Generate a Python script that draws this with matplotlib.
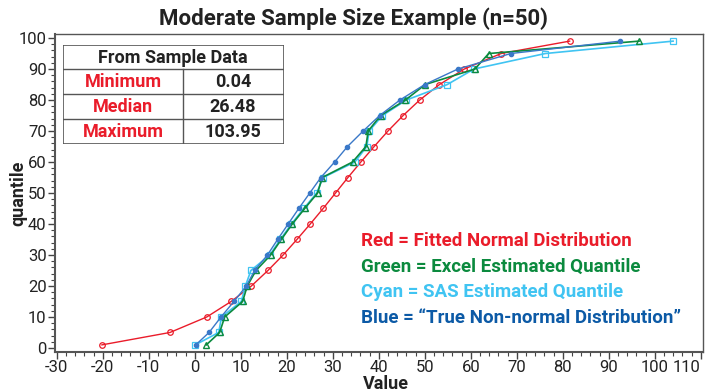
import numpy as np
import matplotlib.pyplot as plt
from matplotlib.ticker import MultipleLocator

# quantile levels (percent)
quantiles = [1, 5, 10, 15, 20, 25, 30, 35, 40, 45, 50, 55, 60, 65, 70, 75, 80, 85, 90, 95, 99]

red_vals = [-20.2, -5.4, 2.6, 7.9, 12.3, 15.9, 19.2, 22.2, 25.1, 27.9, 30.6,
            33.3, 36.1, 39.0, 42.0, 45.3, 48.9, 53.2, 58.6, 66.6, 81.5]
green_vals = [2.5, 5.4, 6.5, 10.4, 11.4, 13.3, 16.5, 18.8, 21.2, 23.9, 26.7,
              27.7, 34.3, 37.2, 37.7, 40.4, 45.8, 50.1, 60.9, 63.9, 96.6]
cyan_vals = [0.1, 5.2, 5.8, 10.1, 11.0, 12.2, 16.3, 18.6, 21.0, 23.7, 26.5,
             27.9, 34.8, 37.4, 37.9, 40.8, 46.0, 54.9, 60.7, 76.2, 104.0]
blue_vals = [0.2, 3.1, 5.7, 8.5, 11.2, 13.0, 15.8, 18.0, 20.3, 22.6, 25.0,
             27.4, 30.4, 33.2, 36.6, 40.2, 44.6, 50.0, 57.2, 68.7, 92.5]

x_ticks = [-30, -20, -10, 0, 10, 20, 30, 40, 50, 60, 70, 80, 90, 100, 110]

table_rows = [["Minimum", "0.04"], ["Median", "26.48"], ["Maximum", "103.95"]]

legend_lines = [
    ("Red = Fitted Normal Distribution", "#ea1c2a"),
    ("Green = Excel Estimated Quantile", "#0b8a3e"),
    ("Cyan = SAS Estimated Quantile", "#40c4f2"),
    ("Blue = \u201cTrue Non-normal Distribution\u201d", "#0c5aa6"),
]

plt.rcParams['font.family'] = ['Roboto', 'DejaVu Sans']
txt = '#222222'

fig = plt.figure(figsize=(7.07, 3.92), dpi=100)
ax = fig.add_axes([55/707, 40/392, 648/707, 318/392])

ax.plot(red_vals, quantiles, color='#ea1c2a', lw=1.0, marker='o', ms=4,
        mfc='none', mec='#ea1c2a', mew=0.9)
ax.plot(cyan_vals, quantiles, color='#40c4f2', lw=1.2, marker='s', ms=4,
        mfc='none', mec='#40c4f2', mew=0.9)
ax.plot(green_vals, quantiles, color='#0b8a3e', lw=1.2, marker='^', ms=4,
        mfc='none', mec='#0b8a3e', mew=1.0)
ax.plot(blue_vals, quantiles, color='#3a78c8', lw=1.0, marker='o', ms=3,
        mfc='#3a78c8', mec='#3a78c8')

ax.set_xlim(-30.4, 110.5)
ax.set_ylim(-1.3, 101.3)
ax.set_xticks(x_ticks)
xlabs = ax.set_xticklabels([str(t) for t in x_ticks])
xlabs[-1].set_ha('right')  # keep "110" inside the picture
ax.xaxis.set_minor_locator(MultipleLocator(2))
ax.yaxis.set_major_locator(MultipleLocator(10))
ax.yaxis.set_minor_locator(MultipleLocator(2))
ax.tick_params(which='major', length=5, width=1, color='#444444',
               labelsize=12, labelcolor=txt, pad=1)
ax.tick_params(which='minor', length=3, width=0.8, color='#444444')
for s in ax.spines.values():
    s.set_color('#555555')
    s.set_linewidth(1.0)
ax.spines['left'].set_linewidth(1.5)
ax.spines['bottom'].set_linewidth(1.5)

ax.set_xlabel('Value', fontsize=13, fontweight='bold', color=txt, labelpad=0, x=0.51)
ax.set_ylabel('quantile', fontsize=13, fontweight='bold', color=txt)
ax.yaxis.set_label_coords(-0.043, 0.5)
fig.text(0.5, 0.953, 'Moderate Sample Size Example (n=50)', ha='center', va='center',
         fontsize=16, fontweight='bold', color=txt)

# summary table drawn in figure pixel coordinates
tab = fig.add_axes([63/707, (392-144)/392, 221/707, 99/392])
tab.set_xlim(0, 221)
tab.set_ylim(99, 0)
tab.axis('off')
edge = '#555555'
tab.add_patch(plt.Rectangle((0, 0), 221, 99, fill=False, ec=edge, lw=1.2))
for yy in (24, 49, 74):
    tab.plot([0, 221], [yy, yy], color=edge, lw=1.0)
tab.plot([120, 120], [24, 99], color=edge, lw=1.0)
tab.text(110, 13, 'From Sample Data', ha='center', va='center', fontsize=13,
         fontweight='bold', color=txt)
for i, (lab, val) in enumerate(table_rows):
    yc = 37 + 25 * i
    tab.text(60, yc, lab, ha='center', va='center', fontsize=13,
             fontweight='bold', color='#ea1c2a')
    tab.text(170, yc, val, ha='center', va='center', fontsize=13,
             fontweight='bold', color=txt)

for i, (s, c) in enumerate(legend_lines):
    fig.text(361/707, 1 - (241 + 25.7 * i)/392, s, ha='left', va='center',
             fontsize=13.5, fontweight='bold', color=c)

fig.savefig('out.png', dpi=100)
